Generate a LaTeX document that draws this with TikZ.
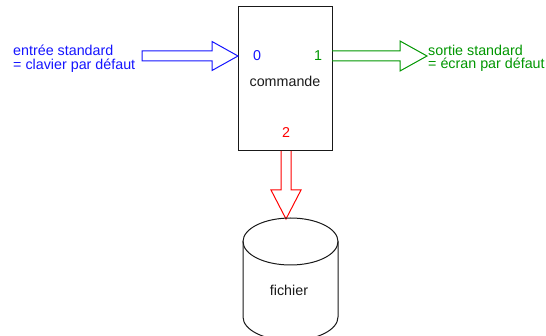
\documentclass[tikz,border=0pt]{standalone}
\usepackage{fontspec}
\setmainfont{Liberation Sans}
\usetikzlibrary{calc}
\definecolor{myblue}{RGB}{20,20,255}
\definecolor{mygreen}{RGB}{0,150,0}
\definecolor{myred}{RGB}{255,0,0}
\definecolor{myink}{RGB}{25,25,25}
\tikzset{
  lbl/.style={font=\fontsize{14.3}{13.5}\selectfont, inner sep=0pt},
  fatline/.style={line width=1pt, line join=miter},
}
\begin{document}
\begin{tikzpicture}[x=1pt,y=-1pt]
\useasboundingbox (0,0) rectangle (546,336);
\begin{scope}
\clip (0,0) rectangle (546,336);
% box
\node[draw=myink, line width=1pt, minimum width=94pt, minimum height=144pt, inner sep=0pt] (box) at (285,79) {};
\node[lbl, text=myink] (cmd) at (285,81) {commande};
\node[lbl, text=myblue] (n0) at (257,56) {0};
\node[lbl, text=mygreen] (n1) at (318,56) {1};
\node[lbl, text=myred] (n2) at (286,133) {2};
% named endpoints
\coordinate (inA) at (142,56);
\coordinate (p0) at (238,56);
\coordinate (p1) at (332,56);
\coordinate (outB) at (427,56);
\coordinate (p2) at (286,151);
\coordinate (cyltop) at (286,219);
% labels
\node[lbl, text=myblue, anchor=west, align=left] (stdin) at (13,58.5) {entrée standard\\= clavier par défaut};
\node[lbl, text=mygreen, anchor=west, align=left] (stdout) at (428,58.5) {sortie standard\\= écran par défaut};
% blue fat arrow
\draw[fatline, myblue] ($(inA)+(0,-5)$) -- ($(p0)+(-26,-5)$) -- ($(p0)+(-26,-14.5)$) -- (p0)
  -- ($(p0)+(-26,14.5)$) -- ($(p0)+(-26,5)$) -- ($(inA)+(0,5)$) -- cycle;
% green fat arrow
\draw[fatline, mygreen] ($(p1)+(0,-5)$) -- ($(outB)+(-27,-5)$) -- ($(outB)+(-27,-15)$) -- (outB)
  -- ($(outB)+(-27,15)$) -- ($(outB)+(-27,5)$) -- ($(p1)+(0,5)$);
% red fat arrow
\draw[fatline, myred] ($(p2)+(-5,0)$) -- ($(cyltop)+(-5,-29)$) -- ($(cyltop)+(-15,-29)$) -- (cyltop)
  -- ($(cyltop)+(15,-29)$) -- ($(cyltop)+(5,-29)$) -- ($(p2)+(5,0)$);
% cylinder
\draw[myink, line width=1pt] (290.5,241.5) ellipse [x radius=47.5, y radius=23.5];
\draw[myink, line width=1pt] (243,241.5) -- (243,317) arc[start angle=180, end angle=360, x radius=47.5, y radius=-23.5] -- (338,241.5);
\node[lbl, text=myink] (fich) at (289,290) {fichier};
\end{scope}
\end{tikzpicture}
\end{document}
